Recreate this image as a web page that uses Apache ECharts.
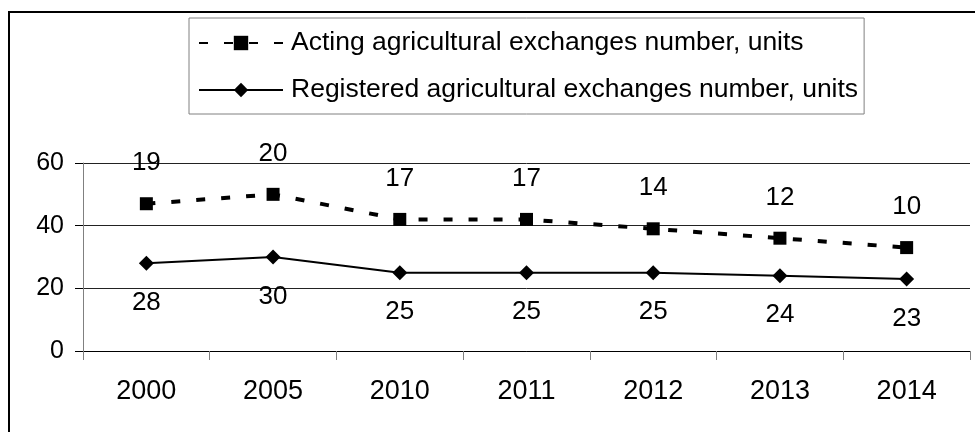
<!DOCTYPE html>
<html>
<head>
<meta charset="utf-8">
<script src="https://cdn.jsdelivr.net/npm/echarts@6/dist/echarts.min.js"></script>
<style>
html,body{margin:0;padding:0;background:#fff;}
#chart{width:975px;height:432px;}
</style>
</head>
<body>
<div id="chart"></div>
<script>
const categories = ['2000','2005','2010','2011','2012','2013','2014'];
const registered = [28, 30, 25, 25, 25, 24, 23];
const acting = [19, 20, 17, 17, 14, 12, 10];
const yTicks = {min: 0, max: 60, interval: 20};
const seriesNames = ['Acting agricultural exchanges number, units', 'Registered agricultural exchanges number, units'];

const FONT = '"Liberation Sans", Arial, sans-serif';
const chart = echarts.init(document.getElementById('chart'), null, {renderer: 'canvas'});
chart.setOption({
  animation: false,
  backgroundColor: '#fff',
  graphic: [{
    type: 'rect', silent: true, z: -1,
    shape: {x: 9, y: 12, width: 1100, height: 600},
    style: {fill: 'none', stroke: '#000', lineWidth: 2}
  }],
  grid: {left: 83, right: 5, top: 163, bottom: 81, containLabel: false},
  legend: {
    orient: 'vertical',
    left: 189, top: 18,
    padding: [10, 6, 9, 9],
    itemGap: 17,
    itemWidth: 84, itemHeight: 18,
    borderColor: '#808080', borderWidth: 1,
    textStyle: {fontFamily: FONT, fontSize: 26.5, color: '#000', lineHeight: 30, padding: [0, 0, 0, 3]},
    data: [seriesNames[0], seriesNames[1]]
  },
  xAxis: {
    type: 'category',
    data: categories,
    boundaryGap: true,
    axisLine: {lineStyle: {color: '#000', width: 1}},
    axisTick: {show: true, length: 9, interval: 0, lineStyle: {color: '#808080'}},
    axisLabel: {fontFamily: FONT, fontSize: 27, color: '#000', margin: 27, interval: 0}
  },
  yAxis: {
    type: 'value',
    min: yTicks.min, max: yTicks.max, interval: yTicks.interval,
    axisLine: {show: true, lineStyle: {color: '#808080', width: 1}},
    axisTick: {show: true, length: 8, lineStyle: {color: '#000'}},
    splitLine: {show: true, lineStyle: {color: '#222', width: 1}},
    axisLabel: {fontFamily: FONT, fontSize: 25, color: '#000', margin: 19}
  },
  series: [
    {
      name: seriesNames[1],
      type: 'line',
      stack: 'total',
      data: registered,
      symbol: 'diamond',
      symbolSize: 15,
      color: '#000',
      lineStyle: {color: '#000', width: 2, type: 'solid'},
      itemStyle: {color: '#000'},
      label: {show: true, position: 'bottom', distance: 19, fontFamily: FONT, fontSize: 26, color: '#000'},
      z: 3
    },
    {
      name: seriesNames[0],
      type: 'line',
      stack: 'total',
      data: acting,
      symbol: 'rect',
      symbolSize: 13,
      color: '#000',
      lineStyle: {color: '#000', width: 4, type: [9, 16]},
      itemStyle: {color: '#000'},
      label: {show: true, position: 'top', distance: 21, fontFamily: FONT, fontSize: 26, color: '#000'},
      z: 3
    }
  ]
});
</script>
</body>
</html>
